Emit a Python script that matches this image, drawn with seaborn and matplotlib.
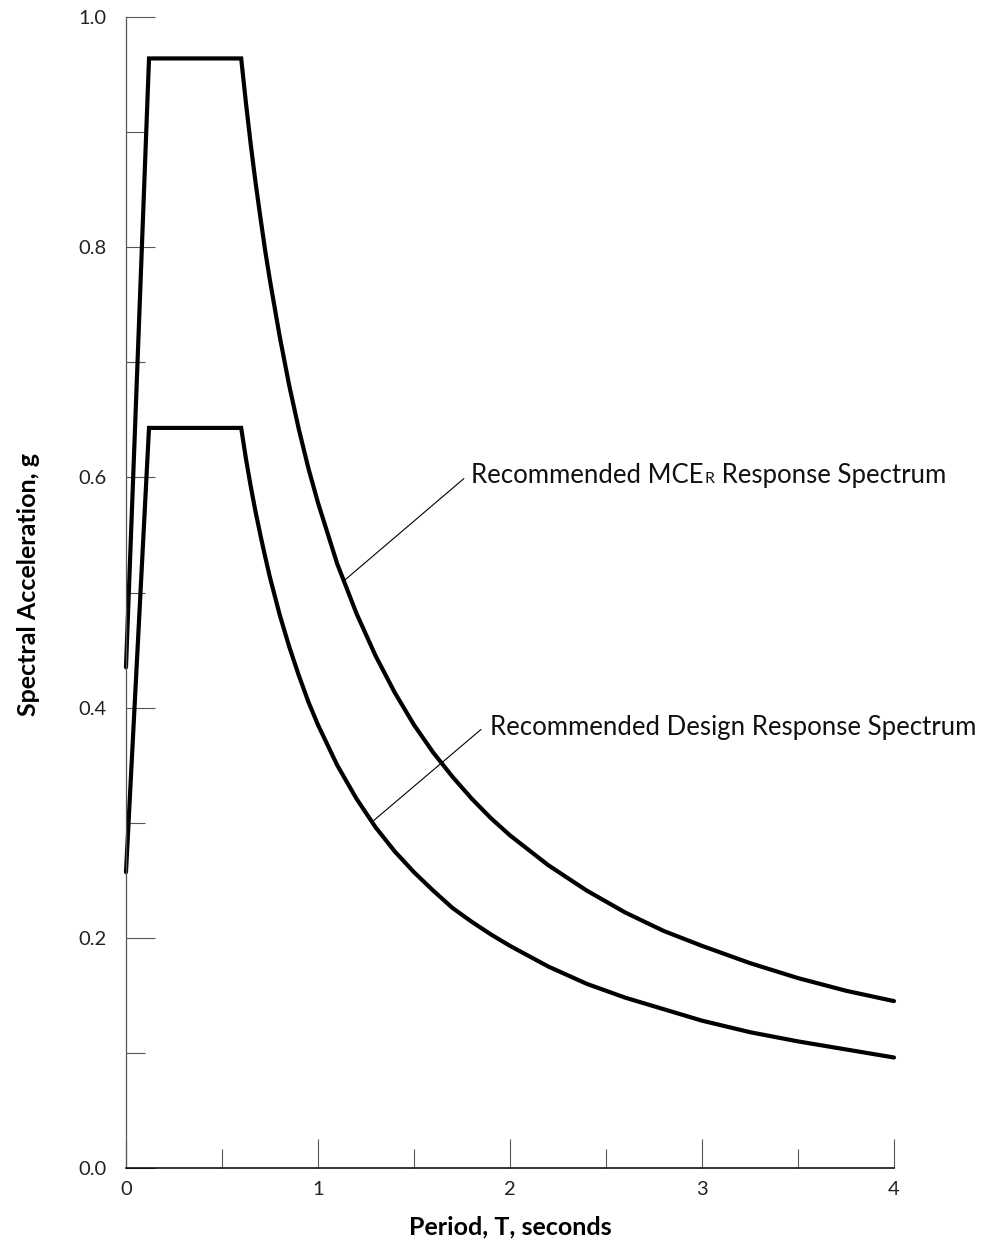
import matplotlib
matplotlib.use("Agg")
import matplotlib.pyplot as plt
import seaborn as sns
import pandas as pd
from matplotlib.ticker import MultipleLocator, FixedLocator

# ---- data ----
period_mce = [0.0, 0.12, 0.6, 0.625, 0.65, 0.675, 0.7, 0.725, 0.75, 0.8, 0.85, 0.9, 0.95,
              1.0, 1.1, 1.2, 1.3, 1.4, 1.5, 1.6, 1.7, 1.8, 1.9, 2.0, 2.2, 2.4, 2.6, 2.8,
              3.0, 3.25, 3.5, 3.75, 4.0]
sa_mce = [0.435, 0.964, 0.964, 0.925, 0.889, 0.856, 0.826, 0.797, 0.771, 0.723, 0.680,
          0.642, 0.608, 0.578, 0.525, 0.482, 0.445, 0.413, 0.385, 0.361, 0.340, 0.321,
          0.304, 0.289, 0.263, 0.241, 0.222, 0.206, 0.193, 0.178, 0.165, 0.154, 0.145]
period_design = [0.0, 0.12, 0.6, 0.625, 0.65, 0.675, 0.7, 0.725, 0.75, 0.8, 0.85, 0.9, 0.95,
                 1.0, 1.1, 1.2, 1.3, 1.4, 1.5, 1.6, 1.7, 1.8, 1.9, 2.0, 2.2, 2.4, 2.6, 2.8,
                 3.0, 3.25, 3.5, 3.75, 4.0]
sa_design = [0.257, 0.643, 0.643, 0.616, 0.592, 0.570, 0.550, 0.531, 0.513, 0.481, 0.453,
             0.428, 0.405, 0.385, 0.350, 0.321, 0.296, 0.275, 0.257, 0.241, 0.226, 0.214,
             0.203, 0.193, 0.175, 0.160, 0.148, 0.138, 0.128, 0.118, 0.110, 0.103, 0.096]

x_major = [0, 1, 2, 3, 4]
x_labels = ["0", "1", "2", "3", "4"]
y_major = [0.0, 0.2, 0.4, 0.6, 0.8, 1.0]
y_labels = ["0.0", "0.2", "0.4", "0.6", "0.8", "1.0"]

mce_label_main = "Recommended MCE"
mce_label_sub = "R"
mce_label_tail = " Response Spectrum"
design_label = "Recommended Design Response Spectrum"
# leader anchors (T, Sa): point on curve, line end near text, text position
mce_leader_point = (1.141, 0.511)
mce_leader_end = (1.760, 0.599)
mce_text_pos = (1.797, 0.602)
design_leader_point = (1.281, 0.3006)
design_leader_end = (1.849, 0.381)
design_text_pos = (1.895, 0.383)

x_title = "Period, T, seconds"
y_title = "Spectral Acceleration, g"

# ---- style ----
sns.set_theme(style="ticks")
plt.rcParams["font.family"] = ["Lato", "DejaVu Sans"]

fig = plt.figure(figsize=(9.85, 12.49), dpi=100)
ax = fig.add_axes([0.1279, 0.06485, 0.7797, 0.92154])

df_mce = pd.DataFrame({"T": period_mce, "Sa": sa_mce})
df_des = pd.DataFrame({"T": period_design, "Sa": sa_design})
sns.lineplot(data=df_mce, x="T", y="Sa", sort=False, estimator=None, color="black",
             lw=3.0, ax=ax, clip_on=False, solid_joinstyle="miter")
sns.lineplot(data=df_des, x="T", y="Sa", sort=False, estimator=None, color="black",
             lw=3.0, ax=ax, clip_on=False, solid_joinstyle="miter")

ax.set_xlim(0, 4)
ax.set_ylim(0, 1)
ax.xaxis.set_major_locator(FixedLocator(x_major))
ax.set_xticklabels(x_labels)
ax.xaxis.set_minor_locator(MultipleLocator(0.5))
ax.yaxis.set_major_locator(FixedLocator(y_major))
ax.set_yticklabels(y_labels)
ax.yaxis.set_minor_locator(MultipleLocator(0.1))

ax.tick_params(axis="both", which="major", direction="in", length=21, width=0.8,
               color="#555555", labelsize=14.5, labelcolor="#222222")
ax.tick_params(axis="both", which="minor", direction="in", length=14, width=0.8,
               color="#555555")
ax.tick_params(axis="y", which="major", pad=14)
ax.tick_params(axis="x", which="major", pad=9)

for s in ["top", "right"]:
    ax.spines[s].set_visible(False)
ax.spines["left"].set_color("#555555")
ax.spines["left"].set_linewidth(0.9)
ax.spines["bottom"].set_color("black")
ax.spines["bottom"].set_linewidth(1.1)

ax.set_xlabel(x_title, fontsize=18, fontweight="bold", color="black")
ax.set_ylabel(y_title, fontsize=18, fontweight="bold", color="black")
ax.xaxis.set_label_coords(0.5, -0.041)
ax.yaxis.set_label_coords(-0.112, 0.507)

# ---- annotations ----
arrow = dict(arrowstyle="-", lw=0.8, color="black", shrinkA=0, shrinkB=0)
ax.annotate("", xy=mce_leader_point, xytext=mce_leader_end, arrowprops=arrow)
ax.annotate("", xy=design_leader_point, xytext=design_leader_end, arrowprops=arrow)

txt_color = "#111111"
t1 = ax.text(*mce_text_pos, mce_label_main, fontsize=18.5, va="center", ha="left",
             color=txt_color)
t2 = ax.annotate(mce_label_sub, xy=(1, 0), xycoords=t1, xytext=(0.8, 1.0),
                 textcoords="offset points", fontsize=11.5, va="bottom", ha="left",
                 color=txt_color)
t3 = ax.annotate(mce_label_tail, xy=(1, 0), xycoords=(t2, t1), fontsize=18.5,
                 va="bottom", ha="left", color=txt_color)
ax.text(*design_text_pos, design_label, fontsize=18.5, va="center", ha="left",
        color=txt_color)

fig.savefig("out.png", dpi=100, facecolor="white")
